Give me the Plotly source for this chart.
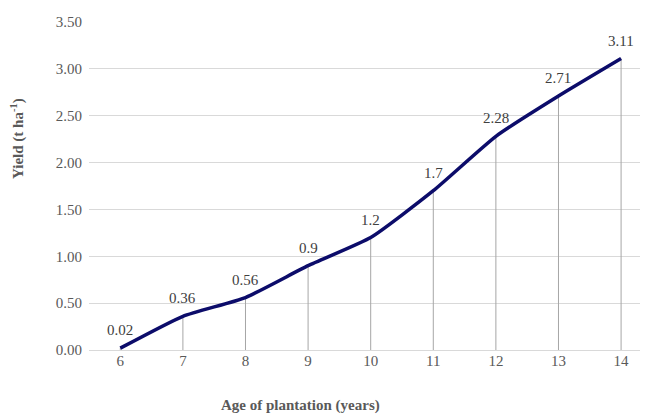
import plotly.graph_objects as go

ages = [6, 7, 8, 9, 10, 11, 12, 13, 14]
yields = [0.02, 0.36, 0.56, 0.9, 1.2, 1.7, 2.28, 2.71, 3.11]
labels = ["0.02", "0.36", "0.56", "0.9", "1.2", "1.7", "2.28", "2.71", "3.11"]
y_ticks = [0, 0.5, 1.0, 1.5, 2.0, 2.5, 3.0, 3.5]

FONT = "Liberation Serif"

fig = go.Figure()

# drop lines
fig.add_trace(go.Scatter(
    x=ages, y=yields, mode="markers",
    marker=dict(size=0.1, color="rgba(0,0,0,0)"),
    error_y=dict(type="data", symmetric=False, array=[0] * len(yields),
                 arrayminus=yields, width=0, thickness=1, color="#a6a6a6"),
    hoverinfo="skip", showlegend=False,
))

fig.add_trace(go.Scatter(
    x=ages, y=yields, mode="lines",
    line=dict(color="#0c0c6a", width=3.5, shape="spline", smoothing=0.5),
    showlegend=False,
))

for a, v, t in zip(ages, yields, labels):
    fig.add_annotation(x=a, y=v, text=t, showarrow=False, yshift=18,
                       font=dict(family=FONT, size=15, color="#404040"))

fig.add_annotation(xref="paper", yref="paper", x=0.379, y=-0.168,
                   text="<b>Age of plantation (years)</b>", showarrow=False,
                   xanchor="center", yanchor="middle",
                   font=dict(family=FONT, size=15, color="#595959"))
fig.add_annotation(xref="paper", yref="paper", x=-0.129, y=0.646,
                   text="<b>Yield (t ha<sup>-1</sup>)</b>", showarrow=False,
                   textangle=-90, xanchor="center", yanchor="middle",
                   font=dict(family=FONT, size=15, color="#595959"))

fig.update_layout(
    width=640, height=406,
    margin=dict(l=81, r=0, t=14, b=64),
    paper_bgcolor="white", plot_bgcolor="white",
    font=dict(family=FONT, size=15, color="#595959"),
)
fig.update_xaxes(
    range=[5.5, 14.43], tickvals=ages, ticktext=[str(a) for a in ages],
    showgrid=False, zeroline=False, showline=False, ticks="",
    tickfont=dict(family=FONT, size=15, color="#595959"),
)
fig.update_yaxes(
    range=[0, 3.5], tickvals=y_ticks, tickformat=".2f",
    showgrid=True, gridcolor="#d9d9d9", gridwidth=1,
    zeroline=True, zerolinecolor="#d9d9d9", zerolinewidth=1,
    showline=False, ticks="",
    tickfont=dict(family=FONT, size=15, color="#595959"),
    ticklabelstandoff=6,
)

fig.write_html("out.html")
